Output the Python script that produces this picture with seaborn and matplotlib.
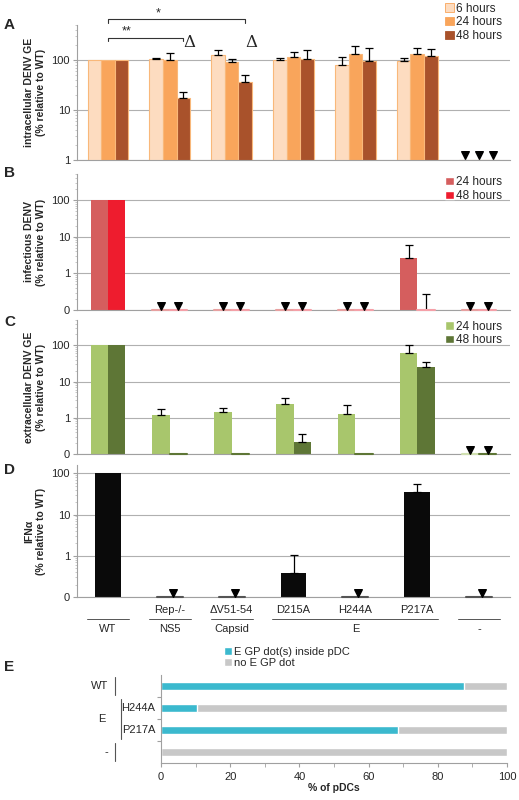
import matplotlib
matplotlib.use("Agg")
import matplotlib.pyplot as plt
import matplotlib.transforms as mtransforms
import seaborn as sns
import pandas as pd
import numpy as np

sns.set_style("white")
plt.rcParams['font.family'] = ['Liberation Sans', 'DejaVu Sans']
plt.rcParams['font.size'] = 8

groups = ['WT', 'NS5', 'Capsid', 'D215A', 'H244A', 'P217A', 'neg']
floor = 0.1

# panel A: intracellular DENV GE
a_6h = [100, 105, 125, 102, 78, 95, 1.0]
a_24h = [100, 100, 90, 115, 130, 130, 1.0]
a_48h = [100, 17, 36, 105, 97, 120, 1.0]
a_6h_err = [None, 108, 160, 110, 112, 108, None]
a_24h_err = [None, 140, 105, 145, 190, 170, None]
a_48h_err = [None, 23, 50, 160, 170, 165, None]

# panel B: infectious DENV
b_24h = [100, floor, floor, floor, floor, 2.6, floor]
b_48h = [100, floor, floor, floor, floor, floor, floor]
b_24h_err = [100, None, None, None, None, 6.0, None]
b_48h_err = [100, None, None, None, None, 0.28, None]
b_tri = [False, True, True, True, True, False, True]

# panel C: extracellular DENV GE
c_24h = [100, 1.2, 1.4, 2.4, 1.3, 60, floor]
c_48h = [100, floor, floor, 0.22, floor, 25, floor]
c_24h_err = [None, 1.7, 1.9, 3.6, 2.3, 105, None]
c_48h_err = [None, None, None, 0.36, None, 35, None]

# panel D: IFNa
d_val = [100, floor, floor, 0.38, floor, 35, floor]
d_err = [None, None, None, 1.05, None, 55, None]
d_tri = [False, True, True, False, True, False, True]

# panel E
e_rows = ['WT', 'H244A', 'P217A', '-']
e_dot = [87.5, 10.5, 68.5, 0]

W, H = 519, 800
fig = plt.figure(figsize=(W / 100, H / 100), dpi=100)


def px_axes(x0, y0, x1, y1):
    return fig.add_axes([x0 / W, 1 - y1 / H, (x1 - x0) / W, (y1 - y0) / H])


def style_log(ax, lo, hi, zero_label):
    ax.set_yscale('log')
    ax.set_ylim(lo, hi)
    ax.set_xlim(-0.5, 6.5)
    ticks = [t for t in [0.1, 1, 10, 100] if t >= lo]
    ax.set_yticks(ticks)
    ax.set_yticklabels(['0' if (t == 0.1 and zero_label) else f'{t:g}' for t in ticks])
    ax.yaxis.grid(True, which='major', color='#b0b0b0', lw=0.8)
    ax.set_axisbelow(True)
    for s in ['top', 'right']:
        ax.spines[s].set_visible(False)
    for s in ['left', 'bottom']:
        ax.spines[s].set_color('#a0a0a0')
    ax.tick_params(axis='y', which='major', length=3, color='#a0a0a0', pad=2, left=True)
    ax.tick_params(axis='y', which='minor', length=1.5, color='#c0c0c0', left=True)
    ax.set_xticks([])
    ax.set_xlabel('')


def grouped(ax, series, names, colors, width, errs, edge=None, flat=None):
    rows = []
    for name, vals in zip(names, series):
        for g, v in zip(groups, vals):
            rows.append({'group': g, 'time': name, 'value': v})
    df = pd.DataFrame(rows)
    sns.barplot(data=df, x='group', y='value', hue='time', palette=colors,
                width=width, dodge=True, ax=ax, legend=False, saturation=1,
                edgecolor=edge, linewidth=0.8 if edge else 0)
    n = len(series)
    bw = width / n
    for k, err in enumerate(errs):
        for i, (v, e) in enumerate(zip(series[k], err)):
            x = i - width / 2 + bw * (k + 0.5)
            if e is not None and e > v:
                ax.errorbar(x, v, yerr=[[0], [e - v]], color='black', lw=0.9,
                            capsize=3, capthick=0.9)
            if flat and v <= floor:
                ax.plot([x - bw / 2, x + bw / 2], [floor, floor], color=flat[k], lw=1.5,
                        clip_on=False, zorder=4)
    return bw


def tri(ax, xs, y):
    ax.scatter(xs, [y] * len(xs), marker='v', s=30, color='black', zorder=5, clip_on=False)


# ---- A
axA = px_axes(77, 25, 510, 160)
grouped(axA, [a_6h, a_24h, a_48h], ['6 hours', '24 hours', '48 hours'],
        ['#FDDCC0', '#F9A55B', '#A9522B'], 0.66,
        [a_6h_err, a_24h_err, a_48h_err], edge='#F9B87A')
style_log(axA, 1, 500, False)
tri(axA, [6 - 0.22, 6, 6 + 0.22], 1.25)
axA.set_ylabel('intracellular DENV GE\n(% relative to WT)', fontweight='bold', fontsize=7.5)
bw = 0.22
for x in [1 + bw, 2 + bw]:
    axA.text(x + 0.1, 150, 'Δ', fontsize=12, ha='center', va='bottom', family='DejaVu Serif')
for xr, yb, lab in [(1 + bw, 280, '**'), (2 + bw, 650, '*')]:
    axA.plot([0, 0, xr, xr], [yb * 0.85, yb, yb, yb * 0.85], color='#333333', lw=0.8, clip_on=False)
    axA.text((0 + xr) / 2 - 0.3, yb, lab, ha='center', va='bottom', fontsize=9)
hA = [plt.Rectangle((0, 0), 1, 1, fc=c, ec=e, lw=0.6) for c, e in
      [('#FDDCC0', '#F9A55B'), ('#F9A55B', '#F9A55B'), ('#A9522B', '#A9522B')]]
axA.legend(hA, ['6 hours', '24 hours', '48 hours'], loc='upper left', bbox_to_anchor=(0.84, 1.2),
           frameon=False, handlelength=0.7, handleheight=0.7, handletextpad=0.2,
           labelspacing=0.15, fontsize=8.5, borderaxespad=0)

# ---- B
axB = px_axes(77, 174, 510, 310)
grouped(axB, [b_24h, b_48h], ['24 hours', '48 hours'], ['#D55E5E', '#EE1C2E'], 0.56,
        [b_24h_err, b_48h_err], flat=['#E8A0A0', '#F5A0A8'])
style_log(axB, 0.1, 515, True)
for i, t in enumerate(b_tri):
    if t:
        tri(axB, [i - 0.14, i + 0.14], 0.125)
axB.set_ylabel('infectious DENV\n(% relative to WT)', fontweight='bold', fontsize=7.5)
hB = [plt.Rectangle((0, 0), 1, 1, fc=c) for c in ['#D55E5E', '#EE1C2E']]
axB.legend(hB, ['24 hours', '48 hours'], loc='upper left', bbox_to_anchor=(0.84, 1.02),
           frameon=False, handlelength=0.7, handleheight=0.7, handletextpad=0.2,
           labelspacing=0.15, fontsize=8.5, borderaxespad=0)

# ---- C
axC = px_axes(77, 320, 510, 454)
grouped(axC, [c_24h, c_48h], ['24 hours', '48 hours'], ['#A8C66C', '#5E7636'], 0.56,
        [c_24h_err, c_48h_err], flat=['#D0E0B0', '#5E7636'])
style_log(axC, 0.1, 500, True)
tri(axC, [6 - 0.14, 6 + 0.14], 0.125)
axC.set_ylabel('extracellular DENV GE\n(% relative to WT)', fontweight='bold', fontsize=7.5)
hC = [plt.Rectangle((0, 0), 1, 1, fc=c) for c in ['#A8C66C', '#5E7636']]
axC.legend(hC, ['24 hours', '48 hours'], loc='upper left', bbox_to_anchor=(0.84, 1.03),
           frameon=False, handlelength=0.7, handleheight=0.7, handletextpad=0.2,
           labelspacing=0.15, fontsize=8.5, borderaxespad=0)

# ---- D
axD = px_axes(77, 465, 510, 597)
grouped(axD, [d_val], ['IFN'], ['#0a0a0a'], 0.42, [d_err], flat=['#555555'])
style_log(axD, 0.1, 160, True)
for i, t in enumerate(d_tri):
    if t:
        tri(axD, [i + 0.05], 0.125)
axD.set_ylabel('IFNα\n(% relative to WT)', fontweight='bold', fontsize=7.5)

row1 = ['', 'Rep-/-', 'ΔV51-54', 'D215A', 'H244A', 'P217A', '']
row2 = [('WT', 0, 0), ('NS5', 1, 1), ('Capsid', 2, 2), ('E', 3, 5), ('-', 6, 6)]
trD = mtransforms.blended_transform_factory(axD.transData, axD.transAxes)
for i, lab in enumerate(row1):
    if lab:
        axD.text(i, -0.1, lab, transform=trD, ha='center', va='center', fontsize=8)
for lab, i0, i1 in row2:
    axD.plot([i0 - 0.34, i1 + 0.34], [-0.17, -0.17], transform=trD, color='#555555',
             lw=0.7, clip_on=False)
    axD.text((i0 + i1) / 2, -0.24, lab, transform=trD, ha='center', va='center', fontsize=8)

# ---- E
axE = px_axes(161, 675, 507, 763)
dfE = pd.DataFrame({'row': e_rows, 'dot': e_dot, 'total': [100] * 4})
sns.barplot(data=dfE, y='row', x='total', color='#C8C8C8', orient='h', width=0.35,
            saturation=1, ax=axE)
sns.barplot(data=dfE, y='row', x='dot', color='#3BB9CE', orient='h', width=0.35,
            saturation=1, ax=axE)
axE.set_xlim(0, 100)
axE.set_ylim(3.5, -0.5)
axE.set_xticks(np.arange(0, 101, 20))
axE.set_xticks(np.arange(0, 101, 10), minor=True)
axE.tick_params(axis='x', which='both', bottom=True, length=3, color='#a0a0a0', labelsize=8)
axE.set_yticks([0.5, 1.5, 2.5])
axE.set_yticklabels([])
axE.tick_params(axis='y', left=True, length=3, color='#a0a0a0')
axE.set_ylabel('')
axE.set_xlabel('% of pDCs', fontweight='bold', fontsize=7.5, labelpad=1)
for s in ['top', 'right']:
    axE.spines[s].set_visible(False)
for s in ['left', 'bottom']:
    axE.spines[s].set_color('#a0a0a0')
trE = mtransforms.blended_transform_factory(axE.transAxes, axE.transData)
for y, lab in [(0, 'WT'), (3, '-')]:
    axE.text(-0.153, y, lab, transform=trE, ha='right', va='center', fontsize=8)
    axE.plot([-0.133, -0.133], [y - 0.4, y + 0.4], transform=trE, color='#555555', lw=0.8,
             clip_on=False)
axE.text(-0.16, 1.5, 'E', transform=trE, ha='right', va='center', fontsize=8)
axE.plot([-0.116, -0.116], [0.6, 2.4], transform=trE, color='#555555', lw=0.8, clip_on=False)
for y, lab in [(1, 'H244A'), (2, 'P217A')]:
    axE.text(-0.017, y, lab, transform=trE, ha='right', va='center', fontsize=8)
hE = [plt.Rectangle((0, 0), 1, 1, fc=c) for c in ['#3BB9CE', '#C8C8C8']]
axE.legend(hE, ['E GP dot(s) inside pDC', 'no E GP dot'], loc='lower left',
           bbox_to_anchor=(0.17, 1.03), frameon=False, handlelength=0.7, handleheight=0.7,
           handletextpad=0.2, labelspacing=0.1, fontsize=8, borderaxespad=0)

for lab, y in [('A', 25), ('B', 173), ('C', 322), ('D', 470), ('E', 667)]:
    fig.text(4 / W, 1 - y / H, lab, fontsize=11, fontweight='bold', va='center')

fig.savefig('out.png', dpi=100)
